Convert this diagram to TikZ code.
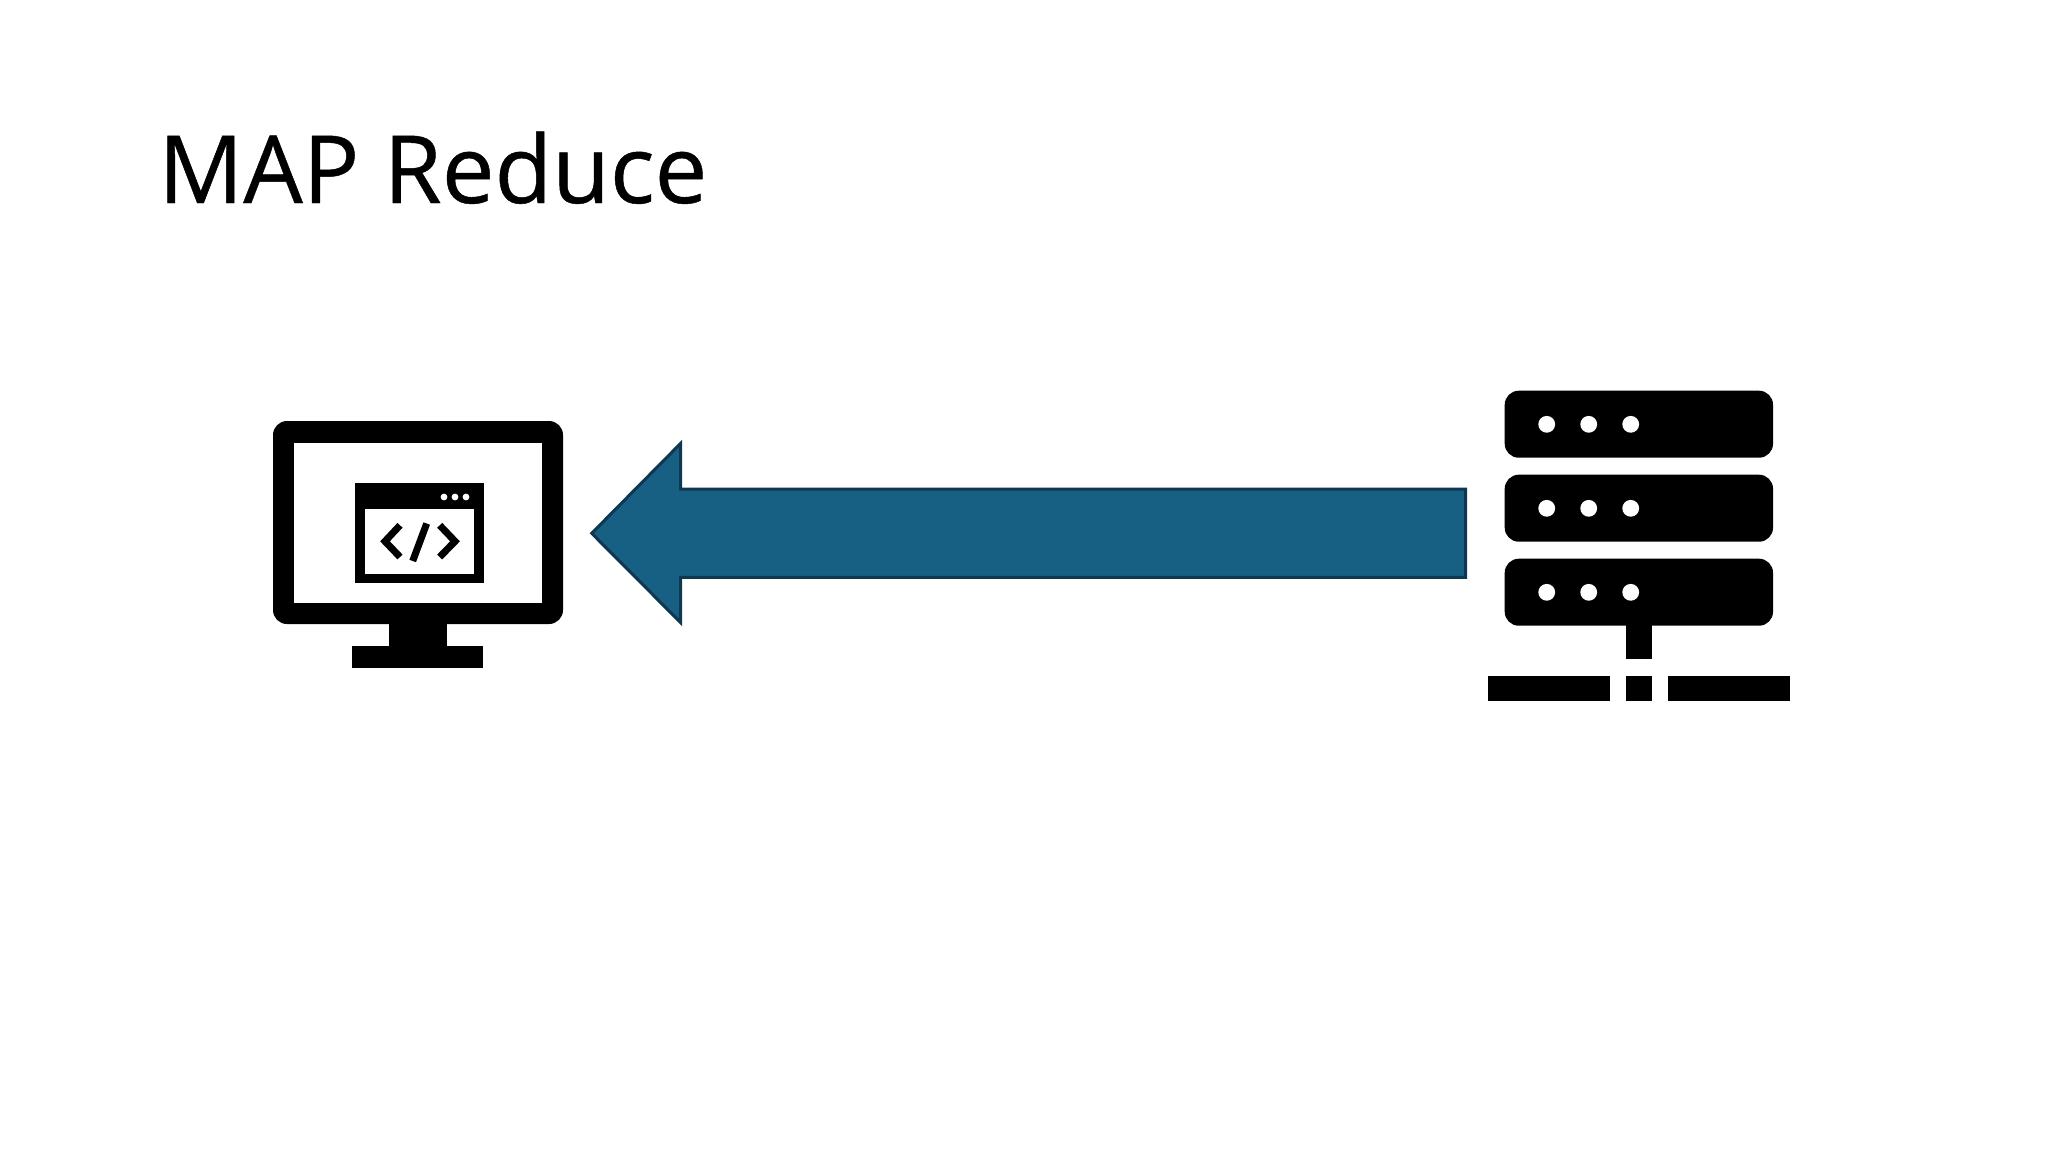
\documentclass[tikz,border=0pt]{standalone}
\usepackage{fontspec}
\setmainfont[RawFeature={embolden=0.5}]{Open Sans}
\definecolor{arrowfill}{HTML}{186083}
\definecolor{arrowline}{HTML}{0E3850}
\tikzstyle{solid black}=[fill=black,draw=none]
\tikzstyle{hole}=[fill=white,draw=none]
\tikzstyle{codeline}=[draw=black,line width=3.5pt]

\begin{document}
\begin{tikzpicture}[x=0.5pt,y=-0.5pt]
	\useasboundingbox (0,0) rectangle (2048,1152);
	\node (title) [anchor=base west,inner sep=0pt,font=\fontsize{47}{56}\selectfont] at (158,203) {MAP Reduce};
	% monitor
	\fill [solid black,rounded corners=7pt] (273,421) rectangle (563,624);
	\fill [hole] (294,443) rectangle (542,603);
	\fill [solid black] (389,620) rectangle (447,650);
	\fill [solid black] (352,646) rectangle (483,668);
	\fill [solid black] (355,483) rectangle (484,583);
	\fill [hole] (365,509) rectangle (474,574);
	\foreach \dotx in {444,455,466}
		\fill [hole] (\dotx,497) circle (1.7pt);
	\draw [codeline] (400,525.3) -- (385,541.3) -- (400,557);
	\draw [codeline] (426.7,523.5) -- (412.7,561);
	\draw [codeline] (439.7,525.3) -- (455,541.3) -- (439.7,557);
	% arrow
	\draw [fill=arrowfill,draw=arrowline,line width=1.5pt] (591.7,533.3) -- (680.7,443.3) -- (680.7,489) -- (1465.6,489) -- (1465.6,577.3) -- (680.7,577.3) -- (680.7,622.7) -- cycle;
	% server
	\foreach \racky in {390.7,474.7,558.7} {
		\fill [solid black,rounded corners=7pt] (1504.7,\racky) rectangle (1773,\racky+67);
		\foreach \dotx in {1546.7,1588.7,1630.7}
			\fill [hole] (\dotx,\racky+33.6) circle (4.2pt);
	}
	\fill [solid black] (1626.3,620) rectangle (1651.7,659);
	\fill [solid black] (1488,676) rectangle (1609.7,701.3);
	\fill [solid black] (1626.3,676) rectangle (1651.7,701.3);
	\fill [solid black] (1668.3,676) rectangle (1790.3,701.3);
\end{tikzpicture}
\end{document}
